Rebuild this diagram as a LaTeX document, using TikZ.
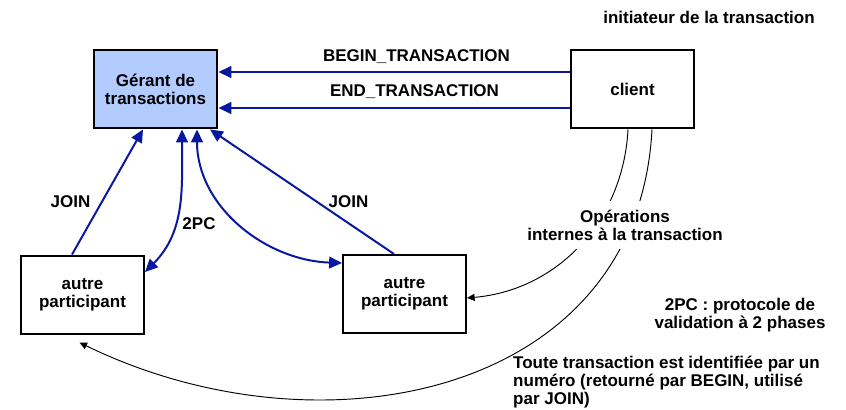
\documentclass[tikz,border=0pt]{standalone}
\usepackage{fontspec}
\setmainfont{Liberation Sans}
\usetikzlibrary{arrows.meta}
\usetikzlibrary{calc}
\definecolor{linkblue}{RGB}{8,24,160}
\definecolor{managerblue}{RGB}{178,204,255}
\tikzset{basic/.style={draw,align=center,
                       minimum width=3.69cm,minimum height=2.34cm}}
\tikzset{manager/.style={basic,line width=2.4pt,fill=managerblue}}
\tikzset{initiator/.style={basic,line width=2.4pt}}
\tikzset{participant/.style={basic,line width=1.7pt}}
\tikzset{link/.style={linkblue,line width=1.7pt,-{Triangle[length=11pt,width=10pt]}}}
\tikzset{twoway/.style={link,{Triangle[length=11pt,width=10pt]}-{Triangle[length=11pt,width=10pt]}}}
\tikzset{thinlink/.style={line width=0.8pt,-{Triangle[length=6.5pt,width=6pt]}}}
\tikzset{note/.style={align=center,inner sep=0pt}}

\begin{document}
\begin{tikzpicture}[x=0.03cm,y=-0.03cm,font=\bfseries\fontsize{14.5}{15.5}\selectfont]
    \useasboundingbox (0,0) rectangle (846,409);

    % boxes
    \node[manager] (gerant) at (155.5,89) {Gérant de\\transactions};
    \node[initiator] (client) at (632.5,89) {client};
    \node[participant] (autre1) at (82.5,294.5) {autre\\participant};
    \node[participant] (autre2) at (404.5,294) {autre\\participant};

    % BEGIN / END
    \draw[link] ($(client.west)+(0,-17)$) -- ($(gerant.east)+(0,-17)$);
    \draw[link] ($(client.west)+(0,19)$) -- ($(gerant.east)+(0,19)$);

    % JOIN
    \draw[link] ($(autre1.north)+(-10.5,0)$) -- ($(gerant.south)+(-12.5,0)$);
    \draw[link] ($(autre2.north)+(-10.5,0)$) -- ($(gerant.south)+(54.5,0)$);

    % 2PC
    \draw[twoway] ($(gerant.south)+(26.5,0)$) to[out=-90,in=45] ($(autre1.east)+(0,-22.5)$);
    \draw[twoway] ($(gerant.south)+(41.5,0)$) to[out=-90,in=178] ($(autre2.west)+(0,-31)$);

    % operations of the client
    \draw[thinlink] ($(client.south)+(-4.5,0)$) to[out=-93,in=5] ($(autre2.east)+(0,4)$);
    \draw[thinlink] ($(client.south)+(19.5,0)$) to[out=-93,in=-26,looseness=1.12] ($(autre1.south)+(-3,8)$);

    % Labels
    \node[anchor=base] (begin) at (416.5,61.7) {BEGIN\_TRANSACTION};
    \node[anchor=base] (end) at (414.5,96.7) {END\_TRANSACTION};
    \node[anchor=base] (join1) at (70.5,207) {JOIN};
    \node[anchor=base] (join2) at (348.5,207) {JOIN};
    \node[anchor=base] (twopc) at (199,229) {2PC};
    \node[anchor=base] (initiateur) at (709,23) {initiateur de la transaction};
    \node[note,fill=white,inner xsep=3pt,inner ysep=7pt] (ops) at (625,225)
        {Opérations\\internes à la transaction};
    \node[note] (legend) at (740,315) {2PC : protocole de\\validation à 2 phases};
    \node[note,align=left,anchor=north west] (numero) at (513,355.6)
        {Toute transaction est identifiée par un\\numéro (retourné par BEGIN, utilisé\\par JOIN)};
\end{tikzpicture}
\end{document}
